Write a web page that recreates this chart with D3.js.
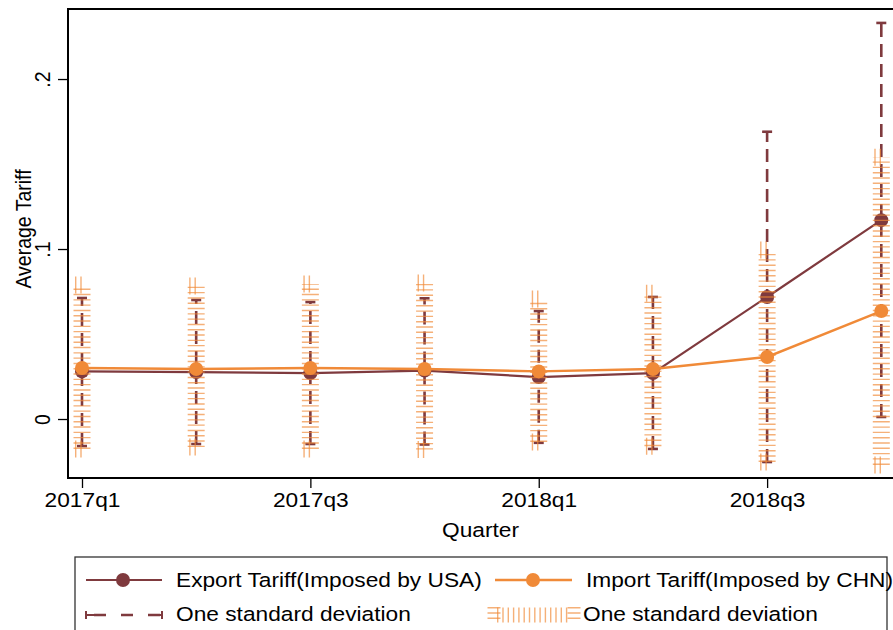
<!DOCTYPE html>
<html>
<head>
<meta charset="UTF-8">
<script src="https://d3js.org/d3.v7.min.js"></script>
<style>
  body { margin: 0; background: #fff; font-family: "Liberation Sans", Arial, sans-serif; }
  svg text { font-family: "Liberation Sans", Arial, sans-serif; fill: #000; }
</style>
</head>
<body>
<div id="chart"></div>
<script>
// values
const quarters = ["2017q1", "2017q2", "2017q3", "2017q4", "2018q1", "2018q2", "2018q3", "2018q4"];
const tickQuarters = ["2017q1", "2017q3", "2018q1", "2018q3"];
const yTicks = [0, 0.1, 0.2];
const yTickLabels = ["0", ".1", ".2"];

const exportMean = [0.028, 0.0276, 0.027, 0.0285, 0.0247, 0.027, 0.0718, 0.117];
const exportLow  = [-0.0159, -0.0147, -0.0147, -0.015, -0.014, -0.0176, -0.0253, 0.0012];
const exportHigh = [0.0712, 0.070, 0.0688, 0.071, 0.0635, 0.0718, 0.169, 0.233];

const importMean = [0.030, 0.0294, 0.030, 0.0294, 0.028, 0.0294, 0.0365, 0.0635];
const importLow  = [-0.0176, -0.0165, -0.0176, -0.018, -0.0135, -0.016, -0.0253, -0.027];
const importHigh = [0.0788, 0.0782, 0.0794, 0.080, 0.0706, 0.074, 0.0994, 0.154];

const maroon = "#7f3a3e";
const orange = "#f08a38";
const W = 893, H = 630;
const plot = {left: 68, right: 895, top: 9, bottom: 478};
const fs = "19.5px";
const stretch = "scale(1.165,1)";

const svg = d3.select("#chart").append("svg")
    .attr("width", W).attr("height", H);

const x = d3.scaleLinear()
    .domain([-0.1226, 7.12])
    .range([plot.left, plot.right]);
const xq = q => x(quarters.indexOf(q));

const y = d3.scaleLinear()
    .domain([-0.0347, 0.2412])
    .range([plot.bottom, plot.top]);

const rows = quarters.map((q, i) => ({
    q, em: exportMean[i], el: exportLow[i], eh: exportHigh[i],
    im: importMean[i], il: importLow[i], ih: importHigh[i]
}));

// axes
const xAxis = svg.append("g")
    .attr("transform", `translate(0,${plot.bottom})`)
    .call(d3.axisBottom(x)
        .tickValues(tickQuarters.map(q => quarters.indexOf(q)))
        .tickFormat(i => quarters[i])
        .tickSize(10).tickSizeOuter(0));
xAxis.select(".domain").remove();
xAxis.selectAll(".tick line").attr("stroke", "#000").attr("stroke-width", 1.3);
xAxis.selectAll(".tick text")
    .attr("y", 0).attr("dy", 0)
    .attr("transform", `translate(0,29) ${stretch}`)
    .style("font-size", fs);

const yAxis = svg.append("g")
    .attr("transform", `translate(${plot.left},0)`)
    .call(d3.axisLeft(y)
        .tickValues(yTicks)
        .tickFormat((d, i) => yTickLabels[i])
        .tickSize(10).tickSizeOuter(0));
yAxis.select(".domain").remove();
yAxis.selectAll(".tick line").attr("stroke", "#000").attr("stroke-width", 1.3);
yAxis.selectAll(".tick text")
    .attr("x", 0).attr("y", 0).attr("dy", 0)
    .attr("text-anchor", "middle")
    .attr("transform", `translate(-18,0) ${stretch} rotate(-90)`)
    .style("font-size", fs);

// plot frame
svg.append("rect")
    .attr("x", plot.left).attr("y", plot.top)
    .attr("width", plot.right - plot.left).attr("height", plot.bottom - plot.top)
    .attr("fill", "none").attr("stroke", "#000").attr("stroke-width", 2);

// axis titles
svg.append("text")
    .attr("transform", `translate(${(plot.left + plot.right) / 2 - 1},537) ${stretch}`)
    .attr("text-anchor", "middle")
    .style("font-size", fs)
    .text("Quarter");
svg.append("text")
    .attr("transform", `translate(31,229) ${stretch} rotate(-90)`)
    .attr("text-anchor", "middle")
    .style("font-size", fs)
    .text("Average Tariff");

const g = svg.append("g");

// export series: line and markers
g.append("path")
    .datum(rows)
    .attr("fill", "none").attr("stroke", maroon).attr("stroke-width", 2.2)
    .attr("d", d3.line().x(d => xq(d.q)).y(d => y(d.em)));
g.selectAll(".em").data(rows).enter().append("circle")
    .attr("cx", d => xq(d.q)).attr("cy", d => y(d.em)).attr("r", 7)
    .attr("fill", maroon);

// export sd bars (dashed, capped)
g.selectAll(".ebar").data(rows).enter().append("line")
    .attr("x1", d => xq(d.q)).attr("x2", d => xq(d.q))
    .attr("y1", d => y(d.el)).attr("y2", d => y(d.eh))
    .attr("stroke", maroon).attr("stroke-width", 2.6)
    .attr("stroke-dasharray", "13 7");
["el", "eh"].forEach(k => {
    g.selectAll(".ecap" + k).data(rows).enter().append("line")
        .attr("x1", d => xq(d.q) - 5).attr("x2", d => xq(d.q) + 5)
        .attr("y1", d => y(d[k])).attr("y2", d => y(d[k]))
        .attr("stroke", maroon).attr("stroke-width", 2.6);
});

// import sd bars (thick striped band, capped)
const stripe = {stroke: orange, width: 17, dash: "1.4 3.9", opacity: 0.68};
g.selectAll(".ibar").data(rows).enter().append("line")
    .attr("x1", d => xq(d.q)).attr("x2", d => xq(d.q))
    .attr("y1", d => y(d.il)).attr("y2", d => y(d.ih))
    .attr("stroke", stripe.stroke).attr("stroke-width", stripe.width)
    .attr("stroke-dasharray", stripe.dash).attr("stroke-opacity", stripe.opacity);
["il", "ih"].forEach(k => {
    g.selectAll(".icap" + k).data(rows).enter().append("line")
        .attr("x1", d => xq(d.q) - 7).attr("x2", d => xq(d.q) + 2)
        .attr("y1", d => y(d[k])).attr("y2", d => y(d[k]))
        .attr("stroke", stripe.stroke).attr("stroke-width", stripe.width)
        .attr("stroke-dasharray", stripe.dash).attr("stroke-opacity", stripe.opacity);
});

// import series: line and markers
g.append("path")
    .datum(rows)
    .attr("fill", "none").attr("stroke", orange).attr("stroke-width", 2.4)
    .attr("d", d3.line().x(d => xq(d.q)).y(d => y(d.im)));
g.selectAll(".im").data(rows).enter().append("circle")
    .attr("cx", d => xq(d.q)).attr("cy", d => y(d.im)).attr("r", 7)
    .attr("fill", orange);

// legend
const leg = svg.append("g");
leg.append("rect")
    .attr("x", 75).attr("y", 557).attr("width", 812).attr("height", 90)
    .attr("fill", "#fff").attr("stroke", "#333").attr("stroke-width", 1.3);

// row 1
leg.append("line").attr("x1", 86).attr("x2", 162).attr("y1", 580).attr("y2", 580)
    .attr("stroke", maroon).attr("stroke-width", 2.2);
leg.append("circle").attr("cx", 123).attr("cy", 580).attr("r", 7).attr("fill", maroon);
leg.append("line").attr("x1", 495).attr("x2", 572).attr("y1", 580).attr("y2", 580)
    .attr("stroke", orange).attr("stroke-width", 2.4);
leg.append("circle").attr("cx", 533).attr("cy", 580).attr("r", 7).attr("fill", orange);

// row 2
leg.append("line").attr("x1", 86).attr("x2", 162).attr("y1", 615).attr("y2", 615)
    .attr("stroke", maroon).attr("stroke-width", 2.4).attr("stroke-dasharray", "0 8 12 7");
[86, 162].forEach(cx => leg.append("line")
    .attr("x1", cx).attr("x2", cx).attr("y1", 611).attr("y2", 619)
    .attr("stroke", maroon).attr("stroke-width", 2));
leg.append("line").attr("x1", 86).attr("x2", 94).attr("y1", 615).attr("y2", 615)
    .attr("stroke", maroon).attr("stroke-width", 2);
leg.append("line").attr("x1", 155).attr("x2", 162).attr("y1", 615).attr("y2", 615)
    .attr("stroke", maroon).attr("stroke-width", 2);
leg.append("line").attr("x1", 497).attr("x2", 571).attr("y1", 615).attr("y2", 615)
    .attr("stroke", orange).attr("stroke-width", 15)
    .attr("stroke-dasharray", stripe.dash).attr("stroke-opacity", stripe.opacity);
[494, 574].forEach(cx => leg.append("line")
    .attr("x1", cx).attr("x2", cx).attr("y1", 607).attr("y2", 623)
    .attr("stroke", orange).attr("stroke-width", 13)
    .attr("stroke-dasharray", stripe.dash).attr("stroke-opacity", stripe.opacity));

const legText = [
    {x: 176, y: 587, t: "Export Tariff(Imposed by USA)"},
    {x: 586, y: 587, t: "Import Tariff(Imposed by CHN)"},
    {x: 176, y: 621, t: "One standard deviation"},
    {x: 583, y: 621, t: "One standard deviation"}
];
leg.selectAll(".lt").data(legText).enter().append("text")
    .attr("transform", d => `translate(${d.x},${d.y}) ${stretch}`)
    .style("font-size", fs)
    .text(d => d.t);
</script>
</body>
</html>
